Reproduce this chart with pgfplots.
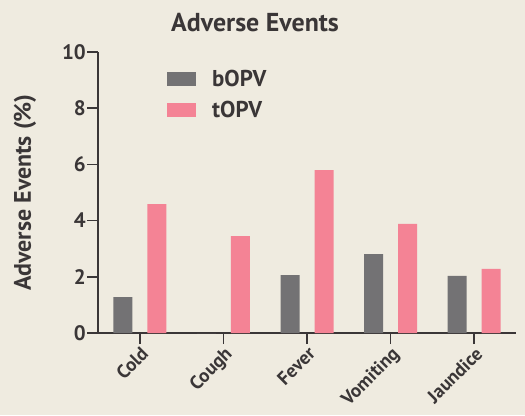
\documentclass[border=0pt]{standalone}
\usepackage{fontspec}
\setmainfont{PT Sans}
\usepackage{pgfplots}
\pgfplotsset{compat=1.18}
\definecolor{bg}{HTML}{EFEBE0}
\definecolor{txt}{HTML}{3A3637}
\definecolor{grayb}{HTML}{737274}
\definecolor{pinkb}{HTML}{F48395}
\begin{document}
\begin{tikzpicture}[x=1bp,y=1bp]
\useasboundingbox[fill=bg] (0,0) rectangle (525,415);
\node[font=\bfseries\fontsize{26}{28}\selectfont, text=txt, anchor=base] at (255,384) {Adverse Events};
\begin{axis}[
  at={(98bp,82bp)}, anchor=south west,
  scale only axis, width=418bp, height=281bp,
  xmin=-0.5, xmax=4.5, ymin=0, ymax=10,
  axis x line=bottom, axis y line=left,
  axis line style={-, line width=1.6bp, color=txt},
  ytick={0,2,4,6,8,10},
  xtick={0,1,2,3,4},
  xticklabels={Cold,Cough,Fever,Vomiting,Jaundice},
  tick align=outside,
  major tick length=11bp,
  tick style={line width=1.6bp, color=txt},
  /pgf/number format/assume math mode=true,
  yticklabel style={font=\bfseries\fontsize{21}{23}\selectfont, text=txt, inner sep=1bp},
  xticklabel style={font=\bfseries\fontsize{19}{21}\selectfont, text=txt, rotate=45, anchor=north east, inner sep=1bp},
  ylabel={Adverse Events (\%)},
  every axis y label/.style={at={(axis description cs:-0.175,0.5)}, rotate=90, anchor=center,
    font=\bfseries\fontsize{24}{26}\selectfont, text=txt},
  ybar=15bp, bar width=19bp,
  legend style={at={(0.165,0.94)}, anchor=north west, draw=none, fill=none,
    font=\bfseries\fontsize{23}{25}\selectfont, text=txt, row sep=11bp, inner sep=0pt,
    nodes={inner sep=1bp}},
  legend cell align=left,
  legend image code/.code={\fill[#1] (0bp,-7bp) rectangle (29bp,7bp);},
  /tikz/every odd column/.append style={column sep=15bp},
]
\addplot[fill=grayb, draw=none] coordinates {(0,1.28) (1,0) (2,2.06) (3,2.81) (4,2.03)};
\addplot[fill=pinkb, draw=none] coordinates {(0,4.59) (1,3.45) (2,5.80) (3,3.88) (4,2.28)};
\legend{bOPV,tOPV}
\end{axis}
\end{tikzpicture}
\end{document}
